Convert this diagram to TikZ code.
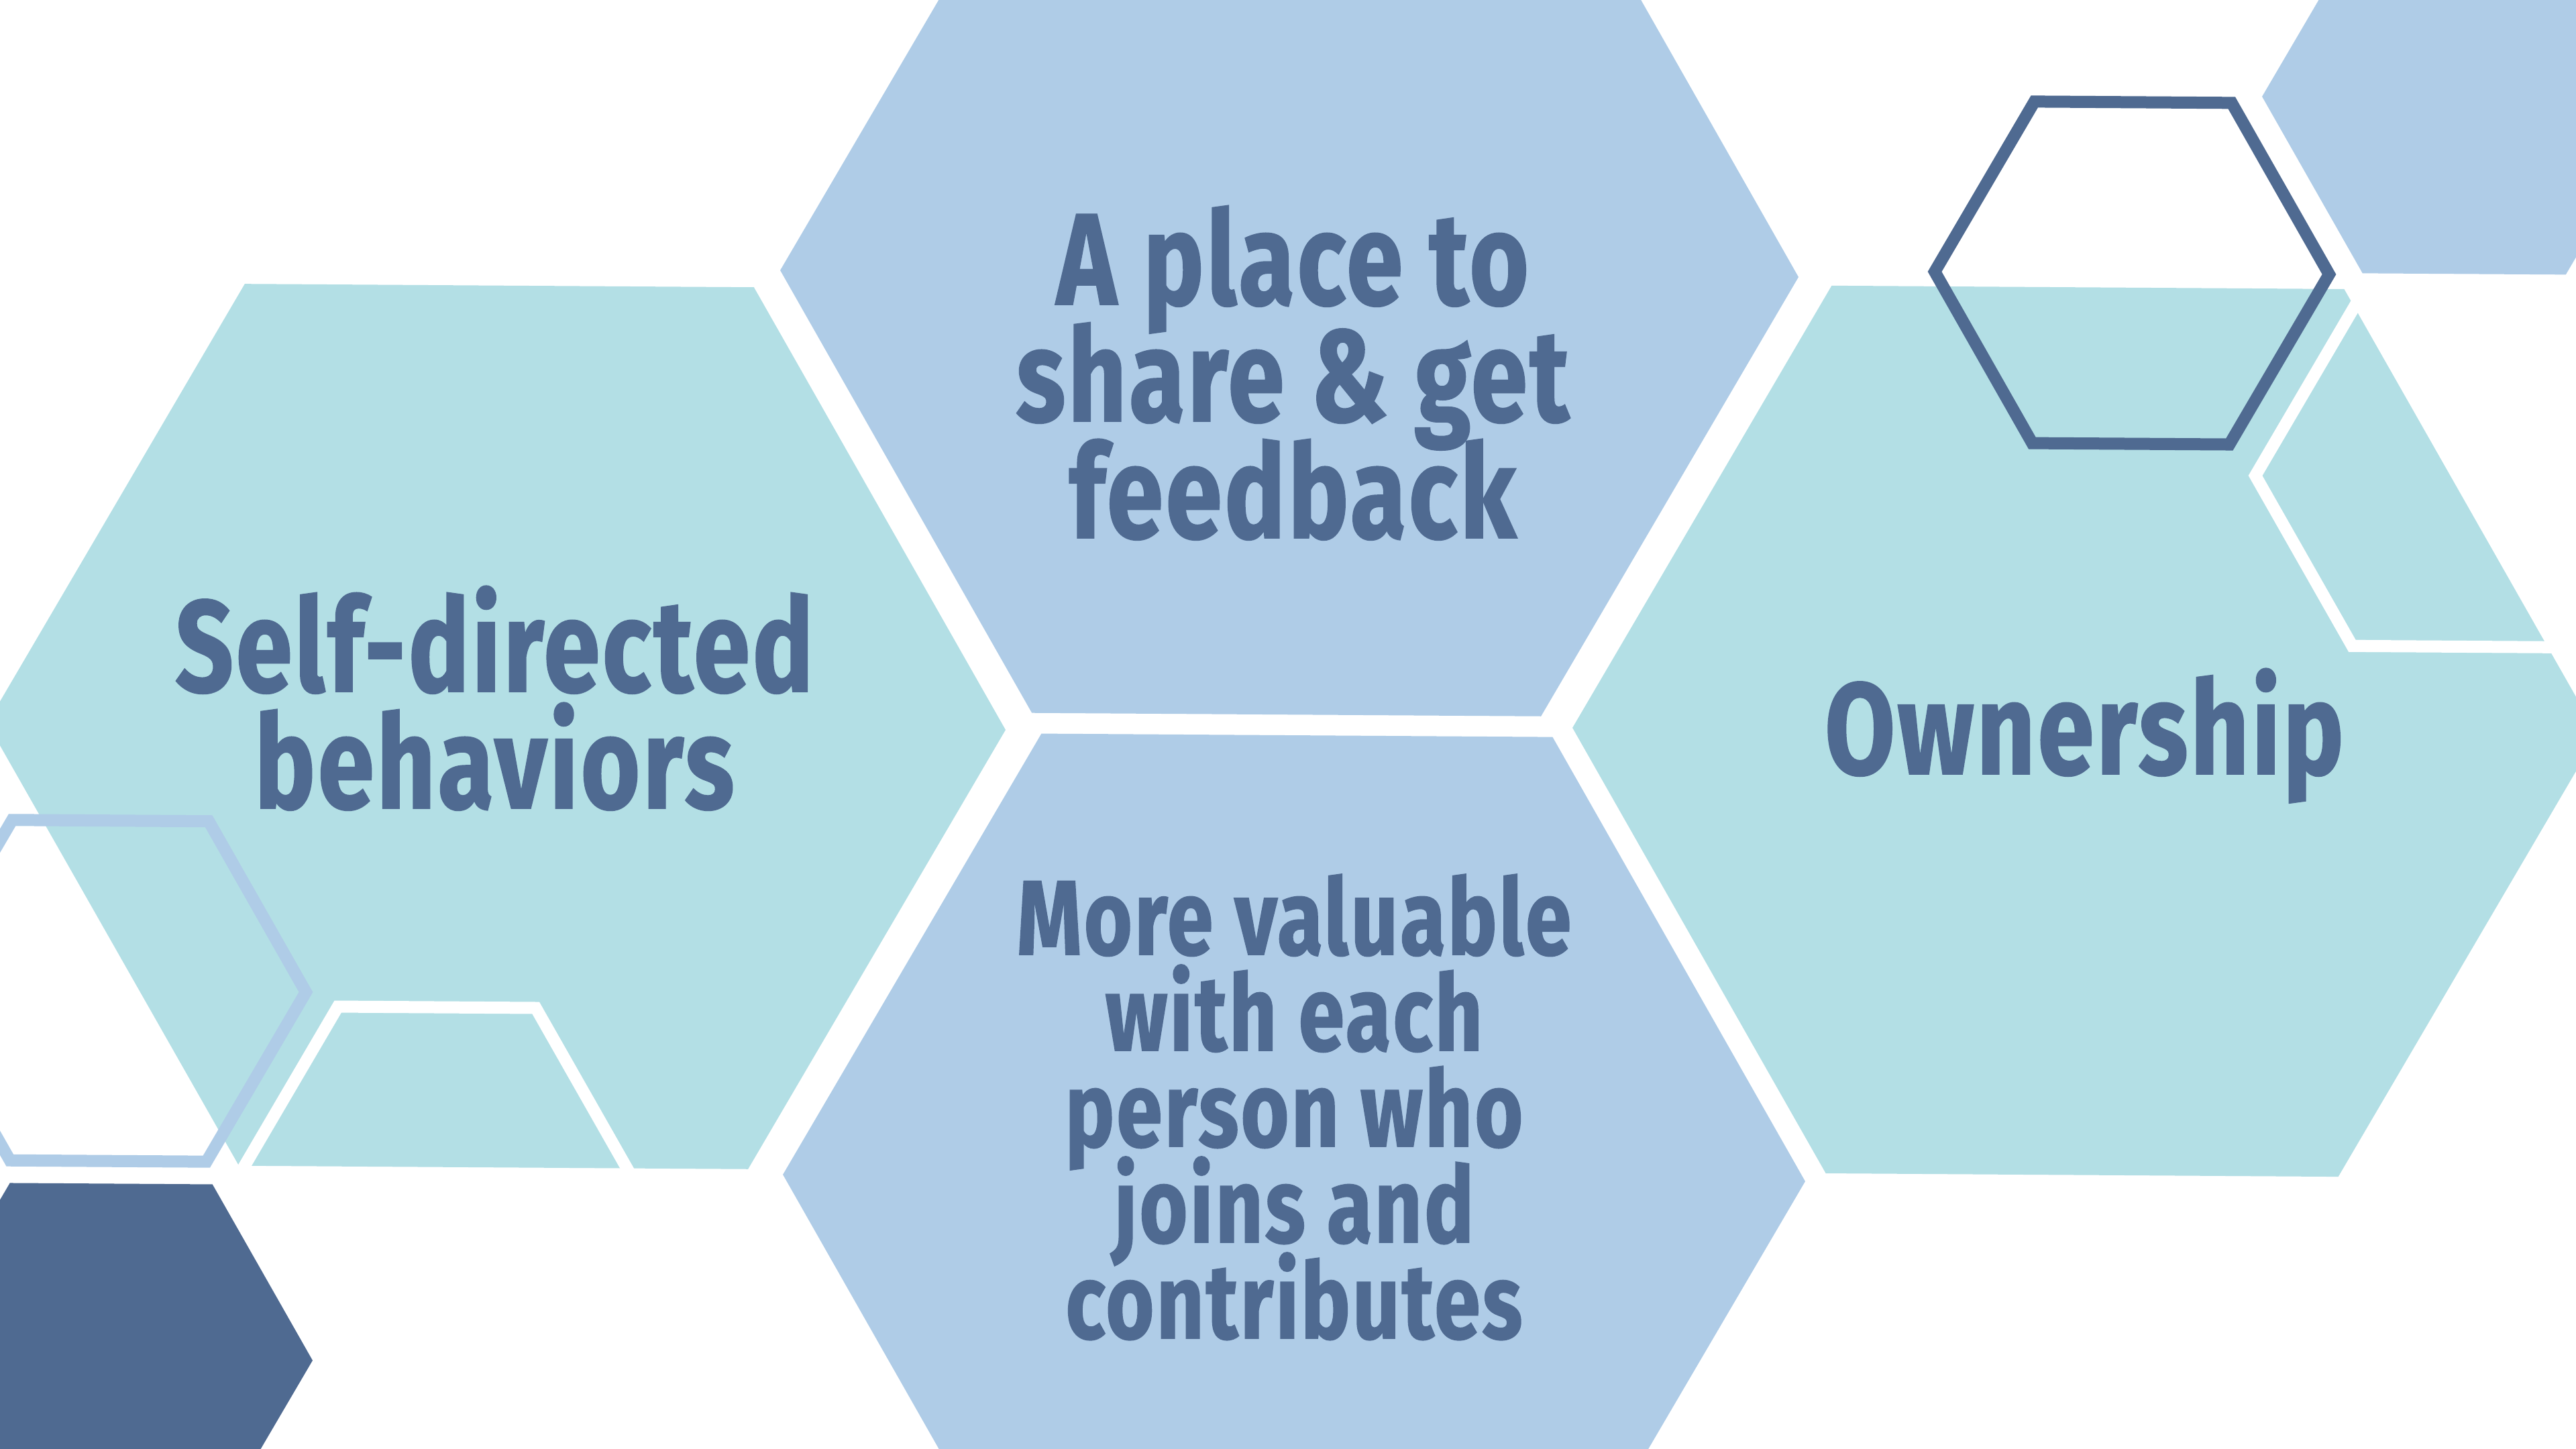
\documentclass[tikz,border=0pt]{standalone}
\usepackage{fontspec}
\newfontfamily\hexfont{Fira Sans}[FakeStretch=0.78, LetterSpace=2.0, FakeBold=1]
\definecolor{hexteal}{HTML}{B3DFE5}
\definecolor{hexblue}{HTML}{AFCCE7}
\definecolor{hexdark}{HTML}{4F6A91}
\newcommand\hexat[3]{(#1,#2) +(-0.38:#3) -- +(59.62:#3) -- +(119.62:#3) -- +(179.62:#3) -- +(239.62:#3) -- +(299.62:#3) -- cycle}
\newcommand\hexlines[1]{\vtop{\lineskiplimit=-100pt\halign{\hfil##\hfil\cr#1\crcr}}}
\tikzset{
  tealhex/.style={fill=hexteal},
  bluehex/.style={fill=hexblue},
  darkhex/.style={fill=hexdark},
  ringdark/.style={draw=hexdark, line width=0.18cm, line join=miter},
  ringwhite/.style={draw=white, line width=0.18cm, line join=miter},
  ringblue/.style={draw=hexblue, line width=0.18cm, line join=miter},
  bigtxt/.style={text=hexdark, inner sep=0pt, anchor=base, font=\hexfont\bfseries\fontsize{55.3}{49.5}\selectfont},
  smalltxt/.style={text=hexdark, inner sep=0pt, anchor=base, font=\hexfont\bfseries\fontsize{45}{40.7}\selectfont}
}
\begin{document}
\begin{tikzpicture}
\useasboundingbox (0,0) rectangle (38.4,21.6);
\fill[white] (0,0) rectangle (38.4,21.6);
\clip (0,0) rectangle (38.4,21.6);
% big hexagons
\fill[tealhex] \hexat{7.40}{10.77}{7.59};
\fill[bluehex] \hexat{19.22}{17.52}{7.59};
\fill[bluehex] \hexat{19.29}{4.04}{7.62};
\fill[tealhex] \hexat{31.08}{10.70}{7.64};
% small hexagons
\fill[bluehex] \hexat{36.75}{20.14}{3.03};
\fill[darkhex] \hexat{1.64}{1.34}{3.02};
\draw[ringblue] \hexat{1.63}{6.83}{2.93};
\draw[ringwhite] \hexat{6.495}{4.03}{2.95};
\draw[ringwhite] \hexat{36.54}{14.49}{2.92};
\draw[ringdark] \hexat{31.78}{17.53}{2.94};
% texts
\node[bigtxt] (share) at (19.27,17.06) {\hexlines{A place to\cr share \& get\cr feedback}};
\node[bigtxt] (self) at (7.37,11.29) {\hexlines{Self-directed\cr behaviors}};
\node[bigtxt] (own) at (31.07,10.06) {Ownership};
\node[smalltxt] (value) at (19.29,7.37) {\hexlines{More valuable\cr with each\cr person who\cr joins and\cr contributes}};
\end{tikzpicture}
\end{document}
